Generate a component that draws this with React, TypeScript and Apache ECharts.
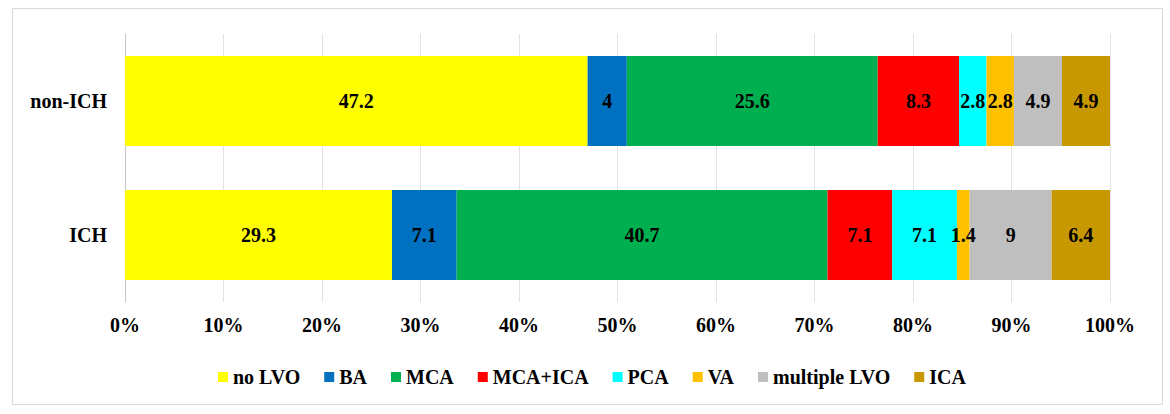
import React, { useEffect, useRef } from "react";
import * as echarts from "echarts";

const categories = ["non-ICH", "ICH"];
const seriesNames = ["no LVO", "BA", "MCA", "MCA+ICA", "PCA", "VA", "multiple LVO", "ICA"];
const nonIchValues = [47.2, 4, 25.6, 8.3, 2.8, 2.8, 4.9, 4.9];
const ichValues = [29.3, 7.1, 40.7, 7.1, 7.1, 1.4, 9, 6.4];
const colors = ["#FFFF00", "#0070C0", "#00B050", "#FF0000", "#00FFFF", "#FFC000", "#BFBFBF", "#C89800"];
const tickLabels = ["0%", "10%", "20%", "30%", "40%", "50%", "60%", "70%", "80%", "90%", "100%"];

const FONT = "Liberation Serif";

export default function App() {
  const ref = useRef<HTMLDivElement>(null);
  useEffect(() => {
    if (!ref.current) return;
    const chart = echarts.init(ref.current, undefined, { renderer: "svg" });
    const rows = [nonIchValues, ichValues];
    const totals = rows.map((r) => r.reduce((a, b) => a + b, 0));
    const series = seriesNames.map((name, si) => ({
      name,
      type: "bar",
      stack: "total",
      barWidth: "67%",
      itemStyle: { color: colors[si] },
      label: {
        show: true,
        position: "inside",
        color: "#000",
        fontFamily: FONT,
        fontWeight: "bold",
        fontSize: 20,
        formatter: (p: any) => String(rows[p.dataIndex][si]),
      },
      emphasis: { disabled: true },
      data: rows.map((r, ri) => (r[si] / totals[ri]) * 100),
    }));
    chart.setOption({
      animation: false,
      textStyle: { fontFamily: FONT },
      graphic: [
        {
          type: "rect",
          shape: { x: 12.5, y: 8.5, width: 1150, height: 396 },
          style: { fill: "none", stroke: "#D9D9D9", lineWidth: 1 },
          silent: true,
          z: -1,
        },
      ],
      grid: { left: 125, right: 60, top: 34, bottom: 112, containLabel: false },
      xAxis: {
        type: "value",
        min: 0,
        max: 100,
        interval: 10,
        axisLine: { show: false },
        axisTick: { show: false },
        splitLine: { show: true, lineStyle: { color: "#E3E3E3", width: 1 } },
        axisLabel: {
          margin: 13,
          color: "#000",
          fontFamily: FONT,
          fontWeight: "bold",
          fontSize: 20,
          formatter: (v: number) => tickLabels[Math.round(v / 10)],
        },
      },
      yAxis: {
        type: "category",
        data: categories,
        inverse: true,
        axisLine: { show: true, lineStyle: { color: "#C4C4C4", width: 1 } },
        axisTick: { show: false },
        axisLabel: {
          margin: 18,
          color: "#000",
          fontFamily: FONT,
          fontWeight: "bold",
          fontSize: 20,
        },
      },
      legend: {
        data: seriesNames,
        left: 213,
        top: 362,
        itemWidth: 10,
        itemHeight: 10,
        itemGap: 24,
        icon: "rect",
        textStyle: {
          color: "#000",
          fontFamily: FONT,
          fontWeight: "bold",
          fontSize: 20,
        },
      },
      series,
    });
    return () => chart.dispose();
  }, []);
  return (
    <div
      ref={ref}
      style={{ position: "fixed", left: 0, top: 0, width: 1170, height: 414, background: "#fff" }}
    />
  );
}
